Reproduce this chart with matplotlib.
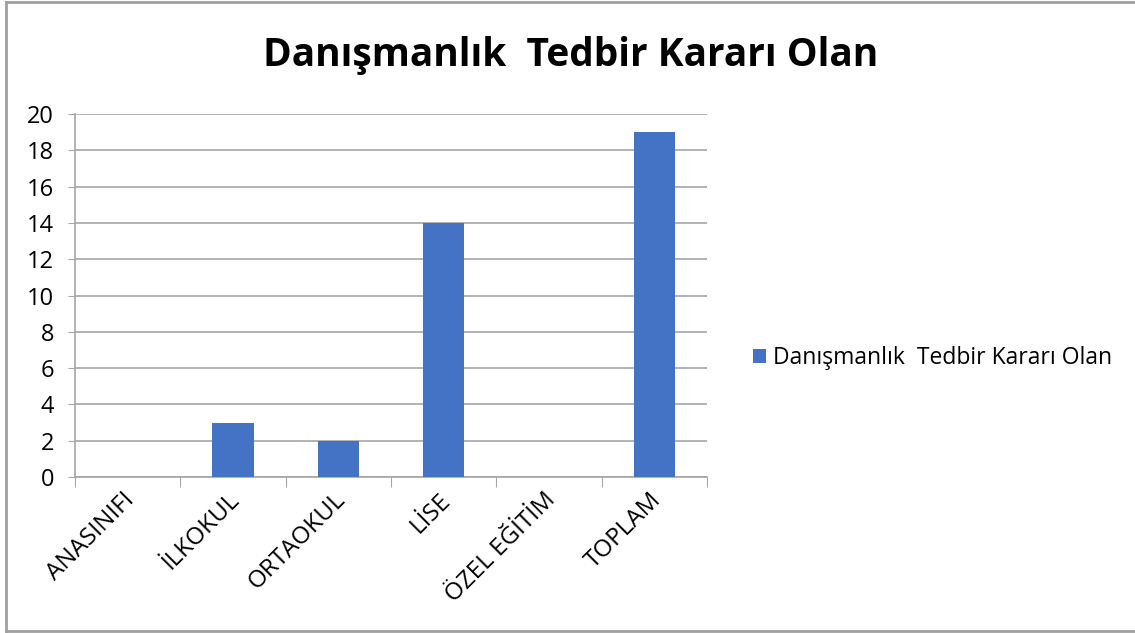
import matplotlib
matplotlib.use("Agg")
import matplotlib.pyplot as plt
import matplotlib.transforms as mtransforms
from matplotlib.patches import Patch
from matplotlib.lines import Line2D

plt.rcParams['font.family'] = ['Open Sans', 'DejaVu Sans']

categories = ["ANASINIFI", "İLKOKUL", "ORTAOKUL", "LİSE", "ÖZEL EĞİTİM", "TOPLAM"]
values = [0, 3, 2, 14, 0, 19]
series_name = "Danışmanlık  Tedbir Kararı Olan"
bar_color = "#4472C4"
grid_color = "#A6A6A6"

fig = plt.figure(figsize=(11.35, 6.33), dpi=100)
ax = fig.add_axes([0.0661, 0.2464, 0.5568, 0.5735])

x = range(len(categories))
ax.bar(x, values, width=0.39, color=bar_color, zorder=3)

ax.set_xlim(-0.5, len(categories) - 0.5)
ax.set_ylim(0, 20)
ax.set_yticks(range(0, 21, 2))
ax.tick_params(axis='y', labelsize=17, length=5, color=grid_color, pad=10)
ax.yaxis.grid(True, color=grid_color, linewidth=1.2, zorder=0)

ax.set_xticks([i - 0.5 for i in range(len(categories) + 1)])
ax.set_xticklabels([])
ax.set_xticks(list(x), minor=True)
ax.set_xticklabels(categories, minor=True, rotation=45, ha='right', va='top',
                   rotation_mode='anchor', fontsize=17.5)
ax.tick_params(axis='x', which='major', length=7, color=grid_color)
ax.tick_params(axis='x', which='minor', length=0, pad=8)
shift = mtransforms.ScaledTranslation(-5 / 100, 0, fig.dpi_scale_trans)
for lbl in ax.get_xticklabels(minor=True):
    lbl.set_transform(lbl.get_transform() + shift)

for s in ['top', 'right']:
    ax.spines[s].set_visible(False)
for s in ['left', 'bottom']:
    ax.spines[s].set_color(grid_color)
    ax.spines[s].set_linewidth(1.2)

fig.text(0.503, 0.912, series_name, ha='center', va='center',
         fontsize=28, fontweight='bold')

handle = Patch(facecolor=bar_color, edgecolor='none')
fig.legend([handle], [series_name], loc='center left',
           bbox_to_anchor=(0.645, 0.434), frameon=False, fontsize=16.5,
           handlelength=0.6, handleheight=0.6, handletextpad=0.3)

# outer chart border (left, top, bottom)
fig.add_artist(Line2D([0.0057, 0.0057], [0.002, 0.997], color='#A0A0A0', linewidth=2))
fig.add_artist(Line2D([0.0057, 1.0], [0.997, 0.997], color='#A0A0A0', linewidth=2))
fig.add_artist(Line2D([0.0057, 1.0], [0.003, 0.003], color='#A0A0A0', linewidth=2))

fig.savefig("out.png", dpi=100)
